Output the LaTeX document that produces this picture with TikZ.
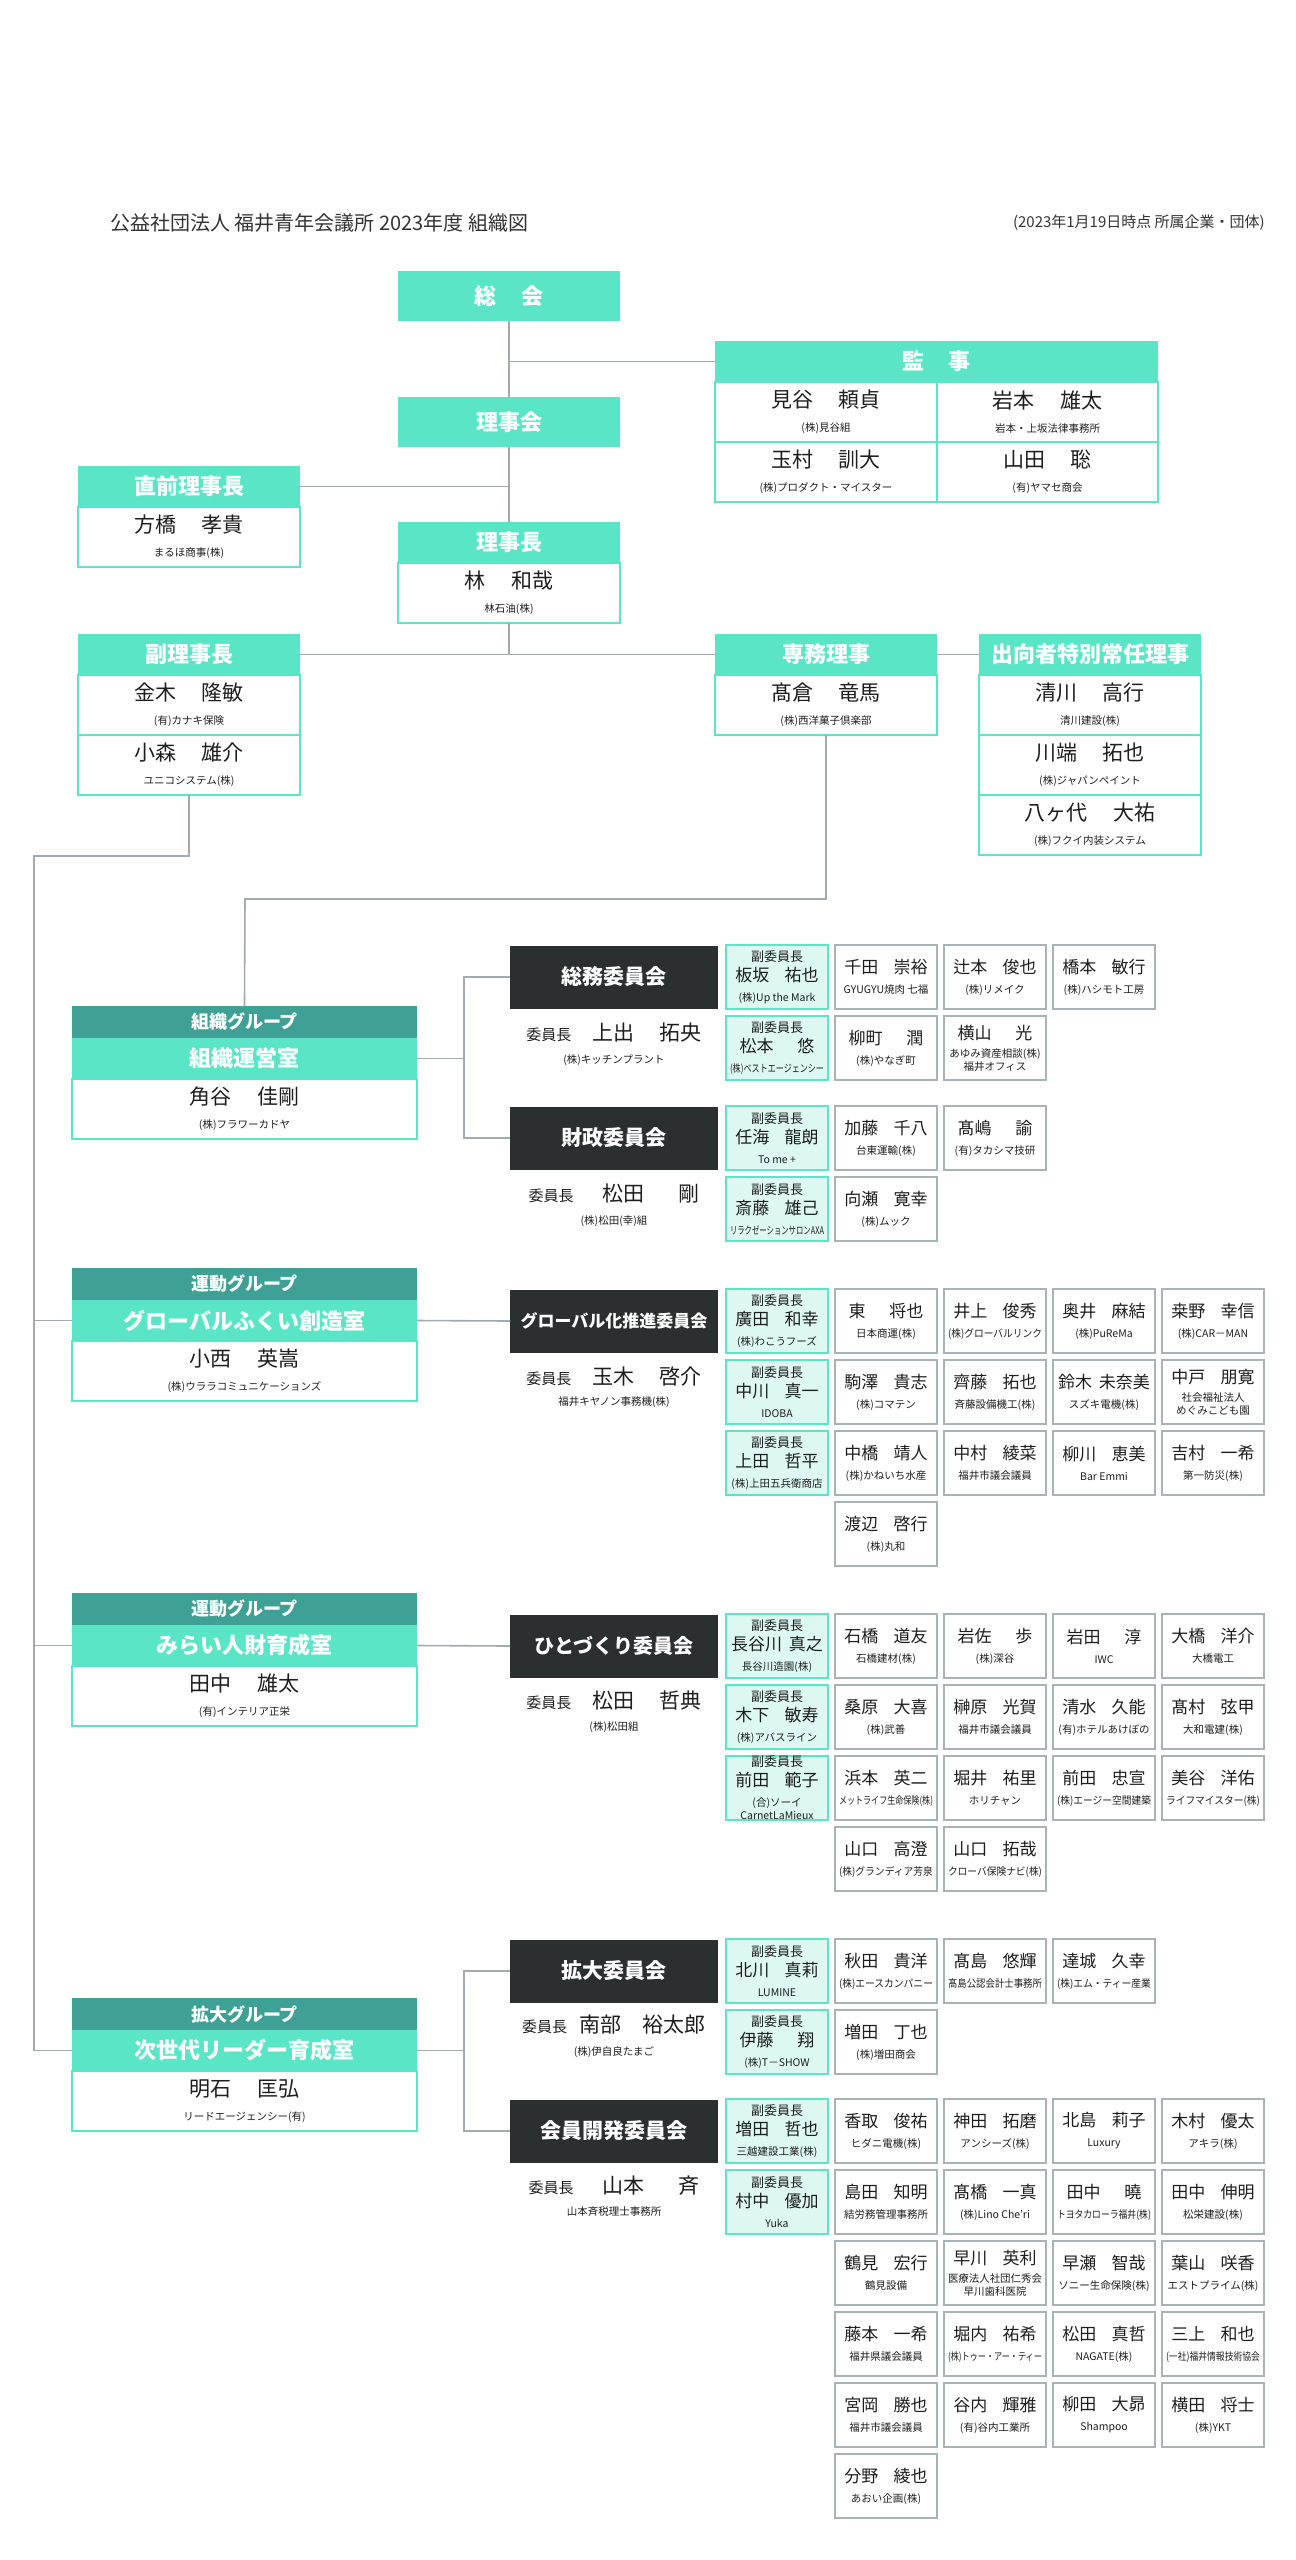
\documentclass[tikz,border=0pt]{standalone}
\usepackage{fontspec}
\setmainfont{Noto Sans CJK JP}
\usepackage{graphicx}
\usepackage{tikz}

\definecolor{mint}{HTML}{5AE6C6}
\definecolor{grpteal}{HTML}{3FA195}
\definecolor{cmtdark}{HTML}{2B2F2F}
\definecolor{vicefill}{HTML}{DCF8F0}
\definecolor{boxgray}{HTML}{A9B2B4}
\definecolor{linegray}{HTML}{A2AAB0}
\definecolor{ink}{HTML}{1E1E1E}
\definecolor{titleink}{HTML}{333333}

\newcommand\fsz[2]{\fontsize{#1}{#2}\selectfont}
\newcommand\pname[3][0.9em]{#2\hspace{#1}#3}
\newcommand\vlab[1]{{\fsz{13}{20}#1}}
\newsavebox\fitbox
\newcommand\corp[2][94pt]{{\fsz{10.5}{20}\sbox\fitbox{#2}\ifdim\wd\fitbox>#1\resizebox{#1}{\height}{\usebox\fitbox}\else\usebox\fitbox\fi}}

\tikzset{
  conn/.style={draw=linegray, line width=1.6pt},
  hdbox/.style={fill=mint, text=white, minimum width=222pt, minimum height=41pt, inner sep=0pt, outer sep=0pt, font={\fsz{22}{26}\bfseries}},
  bdbox/.style={draw=mint, line width=1.5pt, fill=white, minimum width=222pt, minimum height=60pt, inner sep=0pt, outer sep=0pt, align=center, text=ink, font={\fsz{21}{24}}},
  grphead/.style={fill=grpteal, text=white, minimum width=345pt, minimum height=32pt, inner sep=0pt, outer sep=0pt, font={\fsz{18}{22}\bfseries}},
  grpband/.style={fill=mint, text=white, minimum width=345pt, minimum height=41pt, inner sep=0pt, outer sep=0pt, font={\fsz{22}{26}\bfseries}},
  grpbody/.style={bdbox, minimum width=345pt},
  cmt/.style={fill=cmtdark, text=white, minimum width=208pt, minimum height=63pt, inner sep=0pt, outer sep=0pt, font={\fsz{21}{24}\bfseries}},
  chair/.style={text=ink, inner sep=0pt, font={\fsz{21}{24}}},
  vice/.style={draw=mint, fill=vicefill, line width=1.5pt, minimum width=102pt, minimum height=64pt, inner sep=0pt, align=center, text=ink, font={\fsz{17}{20}}},
  memb/.style={vice, draw=boxgray, fill=white},
}

\begin{document}
\begin{tikzpicture}[x=1pt,y=-1pt]
\fill[white] (0,0) rectangle (1296,2560);
\useasboundingbox (0,0) rectangle (1296,2560);

% title
\node[anchor=west, inner sep=0pt, text=titleink, font={\fsz{20}{24}}] (title) at (110,223) {公益社団法人 福井青年会議所 2023年度 組織図};
\node[anchor=east, inner sep=0pt, text=titleink, font={\fsz{15}{18}}] (asof) at (1265,223) {(2023年1月19日時点 所属企業・団体)};

% top
\node[hdbox, minimum height=50pt] (soukai) at (509,296) {総\hspace{1.1em}会};
\node[hdbox, minimum width=443pt] (kanji) at (936.5,361.5) {監\hspace{1.1em}事};
\node[bdbox] (kanji1) at (826,412) {\pname[1.2em]{見谷}{頼貞}\\\corp[200pt]{(株)見谷組}};
\node[bdbox, minimum width=221pt] (kanji2) at (1047.5,412) {\pname[1.2em]{岩本}{雄太}\\\corp[200pt]{岩本・上坂法律事務所}};
\node[bdbox] (kanji3) at (826,472) {\pname[1.2em]{玉村}{訓大}\\\corp[200pt]{(株)プロダクト・マイスター}};
\node[bdbox, minimum width=221pt] (kanji4) at (1047.5,472) {\pname[1.2em]{山田}{聡}\\\corp[200pt]{(有)ヤマセ商会}};
\node[hdbox, minimum height=50pt] (rijikai) at (509,422) {理事会};
\node[hdbox] (choku) at (189,486.5) {直前理事長};
\node[bdbox] (chokubd) at (189,537) {\pname[1.2em]{方橋}{孝貴}\\\corp[200pt]{まるほ商事(株)}};
\node[hdbox] (rijicho) at (509,542.5) {理事長};
\node[bdbox] (rijichobd) at (509,593) {\pname[1.2em]{林}{和哉}\\\corp[200pt]{林石油(株)}};
\node[hdbox] (fuku) at (189,654.5) {副理事長};
\node[bdbox] (fukubd1) at (189,705) {\pname[1.2em]{金木}{隆敏}\\\corp[200pt]{(有)カナキ保険}};
\node[bdbox] (fukubd2) at (189,765) {\pname[1.2em]{小森}{雄介}\\\corp[200pt]{ユニコシステム(株)}};
\node[hdbox] (senmu) at (826,654.5) {専務理事};
\node[bdbox] (senmubd) at (826,705) {\pname[1.2em]{髙倉}{竜馬}\\\corp[200pt]{(株)西洋菓子倶楽部}};
\node[hdbox] (shukko) at (1090,654.5) {出向者特別常任理事};
\node[bdbox] (shukkobd1) at (1090,705) {\pname[1.2em]{清川}{高行}\\\corp[200pt]{清川建設(株)}};
\node[bdbox] (shukkobd2) at (1090,765) {\pname[1.2em]{川端}{拓也}\\\corp[200pt]{(株)ジャパンペイント}};
\node[bdbox] (shukkobd3) at (1090,825) {\pname[1.2em]{八ヶ代}{大祐}\\\corp[200pt]{(株)フクイ内装システム}};

% groups
\node[grphead] (sosiki) at (244.5,1022) {組織グループ};
\node[grpband] (sosikiband) at (244.5,1058.5) {組織運営室};
\node[grpbody] (sosikibd) at (244.5,1109) {\pname[1.2em]{角谷}{佳剛}\\\corp[300pt]{(株)フラワーカドヤ}};
\node[grphead] (undo) at (244.5,1284) {運動グループ};
\node[grpband] (undoband) at (244.5,1320.5) {グローバルふくい創造室};
\node[grpbody] (undobd) at (244.5,1371) {\pname[1.2em]{小西}{英嵩}\\\corp[300pt]{(株)ウララコミュニケーションズ}};
\node[grphead] (mirai) at (244.5,1609) {運動グループ};
\node[grpband] (miraiband) at (244.5,1645.5) {みらい人財育成室};
\node[grpbody] (miraibd) at (244.5,1696) {\pname[1.2em]{田中}{雄太}\\\corp[300pt]{(有)インテリア正栄}};
\node[grphead] (kakudai) at (244.5,2014) {拡大グループ};
\node[grpband] (kakudaiband) at (244.5,2050.5) {次世代リーダー育成室};
\node[grpbody] (kakudaibd) at (244.5,2101) {\pname[1.2em]{明石}{匡弘}\\\corp[300pt]{リードエージェンシー(有)}};

% committees
\node[cmt] (soumu) at (614,977) {総務委員会};
\node[chair] (soumuchr) at (614,1033) {{\fsz{15}{24}委員長}\hspace{1em}\pname[1.2em]{上出}{拓央}};
\node[chair] (soumucmp) at (614,1060) {\corp[200pt]{(株)キッチンプラント}};
\node[cmt] (zaisei) at (614,1138) {財政委員会};
\node[chair] (zaiseichr) at (614,1194) {{\fsz{15}{24}委員長}\hspace{1.4em}\pname[1.6em]{松田}{剛}};
\node[chair] (zaiseicmp) at (614,1221) {\corp[200pt]{(株)松田(幸)組}};
\node[cmt, font={\fsz{17}{20}\bfseries}] (global) at (614,1321) {グローバル化推進委員会};
\node[chair] (globalchr) at (614,1377) {{\fsz{15}{24}委員長}\hspace{1em}\pname[1.2em]{玉木}{啓介}};
\node[chair] (globalcmp) at (614,1402) {\corp[200pt]{福井キヤノン事務機(株)}};
\node[cmt, font={\fsz{20}{24}\bfseries}] (hito) at (614,1646) {ひとづくり委員会};
\node[chair] (hitochr) at (614,1700) {{\fsz{15}{24}委員長}\hspace{1em}\pname[1.2em]{松田}{哲典}};
\node[chair] (hitocmp) at (614,1727) {\corp[200pt]{(株)松田組}};
\node[cmt] (kakudaicmt) at (614,1971) {拡大委員会};
\node[chair] (kakudaichr) at (614,2025) {{\fsz{15}{24}委員長}\hspace{0.6em}\pname[1em]{南部}{裕太郎}};
\node[chair] (kakudaicmp) at (614,2052) {\corp[200pt]{(株)伊自良たまご}};
\node[cmt] (kaiin) at (614,2131) {会員開発委員会};
\node[chair] (kaiinchr) at (614,2186) {{\fsz{15}{24}委員長}\hspace{1.4em}\pname[1.6em]{山本}{斉}};
\node[chair] (kaiincmp) at (614,2212) {\corp[200pt]{山本斉税理士事務所}};

% 総務委員会
\node[vice] (sm11) at (777,977) {\vlab{副委員長}\\\pname{板坂}{祐也}\\\corp{(株)Up the Mark}};
\node[memb] (sm12) at (886,977) {\pname{千田}{崇裕}\\\corp{GYUGYU焼肉 七福}};
\node[memb] (sm13) at (995,977) {\pname{辻本}{俊也}\\\corp{(株)リメイク}};
\node[memb] (sm14) at (1104,977) {\pname{橋本}{敏行}\\\corp{(株)ハシモト工房}};
\node[vice] (sm21) at (777,1048) {\vlab{副委員長}\\\pname[1.4em]{松本}{悠}\\\corp{(株)ベストエージェンシー}};
\node[memb] (sm22) at (886,1048) {\pname[1.4em]{柳町}{潤}\\\corp{(株)やなぎ町}};
\node[memb] (sm23) at (995,1048) {\pname[1.4em]{横山}{光}\\[-2pt]\corp{あゆみ資産相談(株)}\\[-7pt]\corp{福井オフィス}};

% 財政委員会
\node[vice] (fz11) at (777,1138) {\vlab{副委員長}\\\pname{任海}{龍朗}\\\corp{To me +}};
\node[memb] (fz12) at (886,1138) {\pname{加藤}{千八}\\\corp{台東運輸(株)}};
\node[memb] (fz13) at (995,1138) {\pname[1.4em]{髙嶋}{諭}\\\corp{(有)タカシマ技研}};
\node[vice] (fz21) at (777,1209) {\vlab{副委員長}\\\pname{斎藤}{雄己}\\\corp{リラクゼーションサロンAXA}};
\node[memb] (fz22) at (886,1209) {\pname{向瀬}{寛幸}\\\corp{(株)ムック}};

% グローバル化推進委員会
\node[vice] (gl11) at (777,1321) {\vlab{副委員長}\\\pname{廣田}{和幸}\\\corp{(株)わこうフーズ}};
\node[memb] (gl12) at (886,1321) {\pname[1.4em]{東}{将也}\\\corp{日本商運(株)}};
\node[memb] (gl13) at (995,1321) {\pname{井上}{俊秀}\\\corp{(株)グローバルリンク}};
\node[memb] (gl14) at (1104,1321) {\pname{奥井}{麻結}\\\corp{(株)PuReMa}};
\node[memb] (gl15) at (1213,1321) {\pname{桒野}{幸信}\\\corp{(株)CAR－MAN}};
\node[vice] (gl21) at (777,1392) {\vlab{副委員長}\\\pname{中川}{真一}\\\corp{IDOBA}};
\node[memb] (gl22) at (886,1392) {\pname{駒澤}{貴志}\\\corp{(株)コマテン}};
\node[memb] (gl23) at (995,1392) {\pname{齊藤}{拓也}\\\corp{斉藤設備機工(株)}};
\node[memb] (gl24) at (1104,1392) {\pname[0.4em]{鈴木}{未奈美}\\\corp{スズキ電機(株)}};
\node[memb] (gl25) at (1213,1392) {\pname{中戸}{朋寛}\\[-2pt]\corp{社会福祉法人}\\[-7pt]\corp{めぐみこども園}};
\node[vice] (gl31) at (777,1463) {\vlab{副委員長}\\\pname{上田}{哲平}\\\corp{(株)上田五兵衛商店}};
\node[memb] (gl32) at (886,1463) {\pname{中橋}{靖人}\\\corp{(株)かねいち水産}};
\node[memb] (gl33) at (995,1463) {\pname{中村}{綾菜}\\\corp{福井市議会議員}};
\node[memb] (gl34) at (1104,1463) {\pname{柳川}{恵美}\\\corp{Bar Emmi}};
\node[memb] (gl35) at (1213,1463) {\pname{吉村}{一希}\\\corp{第一防災(株)}};
\node[memb] (gl42) at (886,1534) {\pname{渡辺}{啓行}\\\corp{(株)丸和}};

% ひとづくり委員会
\node[vice] (ht11) at (777,1646) {\vlab{副委員長}\\\pname[0.4em]{長谷川}{真之}\\\corp{長谷川造園(株)}};
\node[memb] (ht12) at (886,1646) {\pname{石橋}{道友}\\\corp{石橋建材(株)}};
\node[memb] (ht13) at (995,1646) {\pname[1.4em]{岩佐}{歩}\\\corp{(株)深谷}};
\node[memb] (ht14) at (1104,1646) {\pname[1.4em]{岩田}{淳}\\\corp{IWC}};
\node[memb] (ht15) at (1213,1646) {\pname{大橋}{洋介}\\\corp{大橋電工}};
\node[vice] (ht21) at (777,1717) {\vlab{副委員長}\\\pname{木下}{敏寿}\\\corp{(株)アバスライン}};
\node[memb] (ht22) at (886,1717) {\pname{桑原}{大喜}\\\corp{(株)武善}};
\node[memb] (ht23) at (995,1717) {\pname{榊原}{光賀}\\\corp{福井市議会議員}};
\node[memb] (ht24) at (1104,1717) {\pname{清水}{久能}\\\corp{(有)ホテルあけぼの}};
\node[memb] (ht25) at (1213,1717) {\pname{髙村}{弦甲}\\\corp{大和電建(株)}};
\node[vice] (ht31) at (777,1788) {\vlab{副委員長}\\\pname{前田}{範子}\\\corp{(合)ソーイ}\\[-7pt]\corp{CarnetLaMieux}};
\node[memb] (ht32) at (886,1788) {\pname{浜本}{英二}\\\corp{メットライフ生命保険(株)}};
\node[memb] (ht33) at (995,1788) {\pname{堀井}{祐里}\\\corp{ホリチャン}};
\node[memb] (ht34) at (1104,1788) {\pname{前田}{忠宣}\\\corp{(株)エージー空間建築}};
\node[memb] (ht35) at (1213,1788) {\pname{美谷}{洋佑}\\\corp{ライフマイスター(株)}};
\node[memb] (ht42) at (886,1859) {\pname{山口}{高澄}\\\corp{(株)グランディア芳泉}};
\node[memb] (ht43) at (995,1859) {\pname{山口}{拓哉}\\\corp{クローバ保険ナビ(株)}};

% 拡大委員会
\node[vice] (kd11) at (777,1971) {\vlab{副委員長}\\\pname{北川}{真莉}\\\corp{LUMINE}};
\node[memb] (kd12) at (886,1971) {\pname{秋田}{貴洋}\\\corp{(株)エースカンパニー}};
\node[memb] (kd13) at (995,1971) {\pname{髙島}{悠輝}\\\corp{髙島公認会計士事務所}};
\node[memb] (kd14) at (1104,1971) {\pname{達城}{久幸}\\\corp{(株)エム・ティー産業}};
\node[vice] (kd21) at (777,2042) {\vlab{副委員長}\\\pname[1.4em]{伊藤}{翔}\\\corp{(株)T－SHOW}};
\node[memb] (kd22) at (886,2042) {\pname{増田}{丁也}\\\corp{(株)増田商会}};

% 会員開発委員会
\node[vice] (ki11) at (777,2131) {\vlab{副委員長}\\\pname{増田}{哲也}\\\corp{三越建設工業(株)}};
\node[memb] (ki12) at (886,2131) {\pname{香取}{俊祐}\\\corp{ヒダニ電機(株)}};
\node[memb] (ki13) at (995,2131) {\pname{神田}{拓磨}\\\corp{アンシーズ(株)}};
\node[memb] (ki14) at (1104,2131) {\pname{北島}{莉子}\\\corp{Luxury}};
\node[memb] (ki15) at (1213,2131) {\pname{木村}{優太}\\\corp{アキラ(株)}};
\node[vice] (ki21) at (777,2202) {\vlab{副委員長}\\\pname{村中}{優加}\\\corp{Yuka}};
\node[memb] (ki22) at (886,2202) {\pname{島田}{知明}\\\corp{結労務管理事務所}};
\node[memb] (ki23) at (995,2202) {\pname{髙橋}{一真}\\\corp{(株)Lino Che'ri}};
\node[memb] (ki24) at (1104,2202) {\pname[1.4em]{田中}{曉}\\\corp{トヨタカローラ福井(株)}};
\node[memb] (ki25) at (1213,2202) {\pname{田中}{伸明}\\\corp{松栄建設(株)}};
\node[memb] (ki32) at (886,2273) {\pname{鶴見}{宏行}\\\corp{鶴見設備}};
\node[memb] (ki33) at (995,2273) {\pname{早川}{英利}\\[-2pt]\corp{医療法人社団仁秀会}\\[-7pt]\corp{早川歯科医院}};
\node[memb] (ki34) at (1104,2273) {\pname{早瀬}{智哉}\\\corp{ソニー生命保険(株)}};
\node[memb] (ki35) at (1213,2273) {\pname{葉山}{咲香}\\\corp{エストプライム(株)}};
\node[memb] (ki42) at (886,2344) {\pname{藤本}{一希}\\\corp{福井県議会議員}};
\node[memb] (ki43) at (995,2344) {\pname{堀内}{祐希}\\\corp{(株)トゥー・アー・ティー}};
\node[memb] (ki44) at (1104,2344) {\pname{松田}{真哲}\\\corp{NAGATE(株)}};
\node[memb] (ki45) at (1213,2344) {\pname{三上}{和也}\\\corp{(一社)福井情報技術協会}};
\node[memb] (ki52) at (886,2415) {\pname{宮岡}{勝也}\\\corp{福井市議会議員}};
\node[memb] (ki53) at (995,2415) {\pname{谷内}{輝雅}\\\corp{(有)谷内工業所}};
\node[memb] (ki54) at (1104,2415) {\pname{柳田}{大昴}\\\corp{Shampoo}};
\node[memb] (ki55) at (1213,2415) {\pname{横田}{将士}\\\corp{(株)YKT}};
\node[memb] (ki62) at (886,2486) {\pname{分野}{綾也}\\\corp{あおい企画(株)}};

% connectors
\coordinate (k1) at (509,361.5);
\coordinate (k2) at (509,486.5);
\coordinate (k3) at (509,654.5);
\coordinate (sp1) at (34,856);
\coordinate (sn1) at (245,899);
\coordinate (j1) at (464,1058.5);
\coordinate (j2) at (464,2050.5);
\draw[conn] (soukai.south) -- (rijikai.north);
\draw[conn] (k1) -- (kanji.west);
\draw[conn] (rijikai.south) -- (rijicho.north);
\draw[conn] (k2) -- (choku.east);
\draw[conn] (rijichobd.south) -- (k3);
\draw[conn] (fuku.east) -- (senmu.west);
\draw[conn] (senmu.east) -- (shukko.west);
\draw[conn] (fukubd2.south) |- (sp1) |- (kakudaiband.west);
\draw[conn] (sp1 |- undoband.west) -- (undoband.west);
\draw[conn] (sp1 |- miraiband.west) -- (miraiband.west);
\draw[conn] (senmubd.south) |- (sn1) -- (sosiki.north);
\draw[conn] (sosikiband.east) -- (j1);
\draw[conn] (soumu.west) -| (j1) |- (zaisei.west);
\draw[conn] (undoband.east) -- (global.west);
\draw[conn] (miraiband.east) -- (hito.west);
\draw[conn] (kakudaiband.east) -- (j2);
\draw[conn] (kakudaicmt.west) -| (j2) |- (kaiin.west);
\end{tikzpicture}
\end{document}
